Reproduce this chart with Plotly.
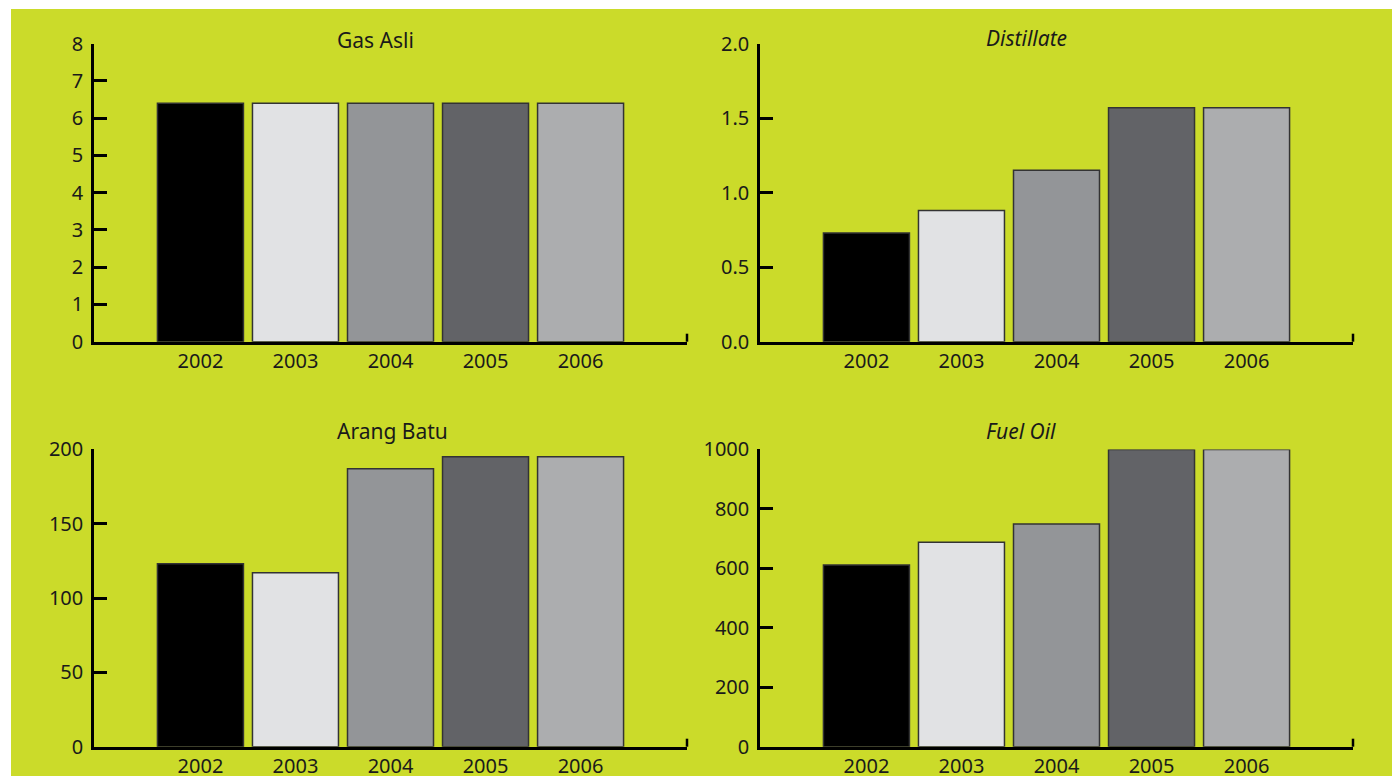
import plotly.graph_objects as go

# ---- data ----
years = ["2002", "2003", "2004", "2005", "2006"]
gas_asli = [6.4, 6.4, 6.4, 6.4, 6.4]
distillate = [0.73, 0.88, 1.15, 1.57, 1.57]
arang_batu = [123, 117, 187, 195, 195]
fuel_oil = [611, 688, 749, 1000, 1000]

titles = ["Gas Asli", "<i>Distillate</i>", "Arang Batu", "<i>Fuel Oil</i>"]
yticks_gas = [0, 1, 2, 3, 4, 5, 6, 7, 8]
yticks_dist = [0.0, 0.5, 1.0, 1.5, 2.0]
yticks_arang = [0, 50, 100, 150, 200]
yticks_fuel = [0, 200, 400, 600, 800, 1000]

bar_colors = ["#000000", "#E1E2E4", "#939598", "#626367", "#ACADAF"]
GREEN = "rgb(203,219,42)"
W, H = 1392, 776

def px_x(p):
    return p / W

def px_y(p):
    return 1 - p / H

panels = [
    dict(vals=gas_asli, ticks=yticks_gas, fmt="d", xd=(94, 687), yd=(341.7, 43.7), title=titles[0], tx=335, ty=40),
    dict(vals=distillate, ticks=yticks_dist, fmt=".1f", xd=(760, 1353), yd=(341.7, 43.7), title=titles[1], tx=984, ty=38),
    dict(vals=arang_batu, ticks=yticks_arang, fmt="d", xd=(94, 687), yd=(746.7, 449.4), title=titles[2], tx=335, ty=431),
    dict(vals=fuel_oil, ticks=yticks_fuel, fmt="d", xd=(760, 1353), yd=(746.7, 449.4), title=titles[3], tx=984, ty=431),
]

fig = go.Figure()
layout = dict(
    width=W, height=H,
    margin=dict(l=0, r=0, t=0, b=0, autoexpand=False),
    paper_bgcolor="white",
    plot_bgcolor="rgba(0,0,0,0)",
    showlegend=False,
    bargap=0.095,
    font=dict(family="Noto Sans", size=20, color="#1a1a1a"),
    shapes=[dict(type="rect", xref="paper", yref="paper",
                 x0=px_x(11), x1=1, y0=0, y1=px_y(9),
                 fillcolor=GREEN, line=dict(width=0), layer="below")],
    annotations=[],
)

for i, p in enumerate(panels, start=1):
    xa = "x" if i == 1 else f"x{i}"
    ya = "y" if i == 1 else f"y{i}"
    fig.add_trace(go.Bar(
        x=years, y=p["vals"], xaxis=xa, yaxis=ya,
        marker=dict(color=bar_colors, line=dict(color="#333333", width=1.5)),
        hoverinfo="x+y",
    ))
    top = p["ticks"][-1]
    layout[f"xaxis{'' if i == 1 else i}"] = dict(
        domain=[px_x(p["xd"][0]), px_x(p["xd"][1])],
        anchor=ya, type="category", range=[-1.12, 5.12],
        showline=True, linecolor="black", linewidth=2.5,
        ticks="", showgrid=False, zeroline=False, automargin=False,
        tickfont=dict(size=20), ticklabelstandoff=0,
    )
    layout[f"yaxis{'' if i == 1 else i}"] = dict(
        domain=[px_y(p["yd"][0]), px_y(p["yd"][1])],
        anchor=xa, range=[0, top],
        tickvals=p["ticks"], tickformat=p["fmt"],
        showline=True, linecolor="black", linewidth=2.5,
        ticks="inside", ticklen=13, tickwidth=2.5, tickcolor="black",
        showgrid=False, zeroline=False, automargin=False,
        tickfont=dict(size=20), ticklabelstandoff=4,
    )
    # small upward tick at the right end of the x axis
    hpx = p["yd"][0] - p["yd"][1]
    layout["shapes"].append(dict(
        type="line", xref=f"{xa} domain", yref=f"{ya} domain",
        x0=1, x1=1, y0=0, y1=8 / hpx,
        line=dict(color="black", width=2.5), layer="above"))
    layout["annotations"].append(dict(
        text=p["title"], xref="paper", yref="paper",
        x=px_x(p["tx"]), y=px_y(p["ty"]), xanchor="left", yanchor="middle",
        showarrow=False, font=dict(size=21, color="#1a1a1a")))

fig.update_layout(**layout)
fig.write_html(
    "out.html",
    config={"displayModeBar": False},
    post_script="document.body.style.margin='0';document.body.style.overflow='hidden';",
)
